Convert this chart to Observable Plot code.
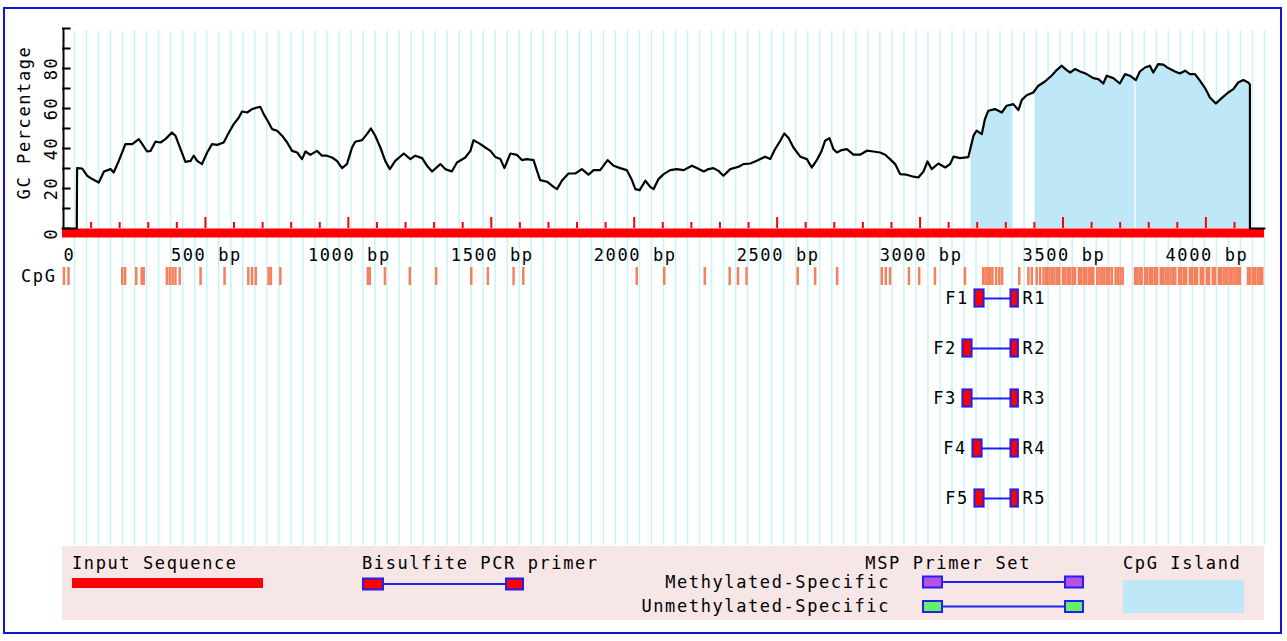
<!DOCTYPE html>
<html><head><meta charset="utf-8">
<script src="https://cdn.jsdelivr.net/npm/d3@7"></script>
<script src="https://cdn.jsdelivr.net/npm/@observablehq/plot@0.6"></script>
<style>
body{margin:0;background:#fff;}
#wrap{position:relative;width:1287px;height:641px;overflow:hidden;font-family:"DejaVu Sans Mono",monospace;background:#fff;}
#frame{position:absolute;left:3px;top:7px;width:1275px;height:623px;border:2px solid #1414d2;box-sizing:content-box;}
#chart{position:absolute;left:0;top:0;}
#legend{position:absolute;left:0;top:0;}
</style></head><body>
<div id="wrap"><div id="frame"></div><div id="chart"></div><svg id="legend" width="1287" height="641"></svg></div>
<script>
// ---------- data ----------
const seqLength = 4205;
const gcPos = [0,50,51,69,86,104,127,145,168,179,197,220,244,267,279,296,308,325,343,360,383,395,413,430,448,459,471,488,506,523,541,564,582,599,617,628,646,663,681,692,704,721,733,751,768,786,803,821,838,850,867,890,908,925,943,960,978,995,1013,1024,1048,1065,1079,1094,1112,1129,1145,1164,1194,1217,1234,1258,1275,1293,1322,1339,1362,1380,1409,1427,1438,1462,1479,1497,1514,1532,1546,1567,1590,1607,1625,1648,1660,1671,1695,1718,1730,1747,1770,1794,1817,1840,1858,1881,1907,1928,1951,1974,1992,2004,2019,2039,2056,2068,2085,2103,2126,2149,2173,2202,2219,2243,2260,2277,2295,2312,2336,2365,2382,2406,2429,2458,2476,2493,2511,2525,2540,2557,2581,2604,2621,2639,2656,2668,2683,2697,2709,2726,2744,2767,2790,2814,2837,2860,2878,2895,2913,2930,2953,2977,2994,3012,3026,3041,3064,3088,3105,3117,3140,3169,3177,3187,3198,3216,3227,3239,3262,3286,3303,3326,3344,3356,3373,3396,3414,3437,3460,3478,3495,3513,3525,3542,3560,3583,3606,3624,3641,3653,3676,3699,3717,3734,3755,3769,3787,3804,3816,3833,3851,3868,3892,3909,3927,3944,3962,3979,3997,4014,4035,4055,4078,4096,4113,4131,4148,4154,4154,4205];
const gcVal = [0,0,30.2,30,26.4,24.7,23,28.5,29.7,28,33.8,42.2,42.2,44.7,42.2,38.5,38.8,43.4,43,44.7,48,46.4,39.7,33.3,33.8,36.4,33.8,32.2,38,42.2,41.8,43,48,52.2,55.5,58.5,58,59.7,60.5,60.8,57.2,53,49.7,48.9,46.4,43,38.8,38,34.7,38.5,36.8,38.8,36.4,36.4,35.5,33.8,30.2,32.2,40.5,43.4,44.2,47.2,50,46.4,40.5,33.8,29.7,33.8,37.5,34.7,36.4,35.2,31.4,28.5,32.2,29.7,28.5,33,35.5,38.8,44.2,42.2,40.5,38.8,35.8,34.7,30.2,37.5,36.8,34.2,34.7,34.2,28.8,24.2,23.4,20.8,19.7,23.9,27.5,27.5,29.7,26.9,29.2,29.2,34.2,31.4,30.2,29.2,24.2,19.7,19.2,23.9,20.8,19.7,24.7,27.2,29.2,29.7,29.2,31.4,30.2,28.5,29.7,30.2,28.8,26.4,29.7,30.9,32.2,32.5,33.9,35.9,34.7,39.7,43.9,47.5,45.2,40.5,35.9,34.7,30.5,34.2,38.9,43.9,45.2,39.7,38,39.2,39.7,36.9,36.9,38.9,38.5,38,36.9,34.7,32.2,27.2,26.9,25.9,25.5,28.5,33.5,29.7,32.5,30.5,32.2,35.9,35.2,35.7,40.5,46.4,48.9,47.2,54.7,58.9,59.7,58,61.4,62.2,59.2,64.3,66.6,68,71.4,73.5,76.4,79.2,81.4,79.2,78,79.7,78.5,77.2,75.2,74.7,72.5,76.4,75.2,72.5,77.2,76.4,74.2,78.5,80.5,81.4,78,82.2,81.9,80.2,78.5,77.5,78.9,77.2,77.2,73.9,70.2,65.5,62.5,65.2,68,69.7,73,74.2,73,72,0,0];
const islandStart = [3178, 3402, 3756];
const islandEnd = [3323, 3752, 4152];
const cpgSites = [5,21,209,219,258,277,284,365,375,385,395,410,483,567,650,663,676,721,729,762,1068,1075,1128,1215,1307,1430,1488,1578,1612,2009,2105,2247,2334,2363,2393,2572,2633,2710,2866,2880,2895,2961,2997,3052,3157,
  3221,3229,3237,3245,3253,3266,3277,3287,3347,3379,3391,3408,3420,3432,3441,
  3445,3453,3462,3470,3479,3487,3500,3508,3517,3525,3534,3542,3556,3564,3573,3581,3590,3598,3606,3620,3628,3637,3645,3654,3662,3671,3684,3692,3701,3709,
  3752,3760,3768,3775,
  3787,3795,3804,3812,3821,3829,3842,3850,3859,3867,3876,3884,3893,3906,3914,3923,3931,3944,3952,3961,3969,3982,3990,4003,4011,4024,4032,4045,4053,4062,4070,4079,4087,4096,4104,4112,4119,
  4147,4155,4164,4172,4181,4189,4197];
const primerIds = ["1","2","3","4","5"];
const fStart = [3192,3150,3150,3185,3192];
const fEnd   = [3224,3182,3182,3217,3224];
const rStart = [3318,3318,3318,3318,3318];
const rEnd   = [3344,3344,3344,3344,3344];
const xTickValues = [0,500,1000,1500,2000,2500,3000,3500,4000];
const xTickLabels = ["0","500 bp","1000 bp","1500 bp","2000 bp","2500 bp","3000 bp","3500 bp","4000 bp"];
const yTickValues = [0,20,40,60,80];
const yTickLabels = ["0","20","40","60","80"];

// ---------- build ----------
const gc = gcPos.map((p,i)=>({pos:p, gc:gcVal[i]}));
const primers = primerIds.map((id,i)=>({id, i, fs:fStart[i], fe:fEnd[i], rs:rStart[i], re:rEnd[i]}));
const gridX = d3.range(1,101).map(k=>k*seqLength/100);
const minorTicks = d3.range(100, 4200, 100).filter(d=>d%500!==0);
const majorTicks = d3.range(500, 4200, 500);
const rowY = d => -35 - 25*d.i;
const gridColor = "#c6f5f7", cpgColor = "#f5805c", islandColor = "#bee8f7", primerStroke = "#2020f0";
const FONT = {fontFamily: "DejaVu Sans Mono", fontSize: "17px", letterSpacing: "1.6px"};

const svg = Plot.plot({
  width: 1287, height: 546,
  marginLeft: 62, marginRight: 23, marginTop: 28, marginBottom: 318,
  x: {domain: [0, seqLength], axis: null},
  y: {domain: [0, 100], axis: null},
  style: {...FONT, background: "transparent", overflow: "visible"},
  marks: [
    Plot.ruleX(gridX, {x: d=>d, y1: 98.75, y2: -158.5, stroke: gridColor, strokeWidth: 1.5}),
    Plot.areaY(gc, {x: "pos", y: "gc", fill: islandColor}),
    Plot.ruleX(minorTicks, {x: d=>d, y1: 0, y2: 3, stroke: "red", strokeWidth: 2}),
    Plot.ruleX(majorTicks, {x: d=>d, y1: 0, y2: 5.5, stroke: "red", strokeWidth: 2}),
    Plot.ruleY([0], {x1: 0, x2: seqLength, stroke: "red", strokeWidth: 9, dy: 4.5}),
    Plot.line(gc, {x: "pos", y: "gc", stroke: "black", strokeWidth: 2.2}),
    Plot.ruleX([0], {y1: 0, y2: 100, stroke: "black", strokeWidth: 2, dx: 1}),
    Plot.ruleY(d3.range(0, 101, 10), {y: d=>d, x1: 0, x2: 30, stroke: "black", strokeWidth: 2}),
    Plot.text(yTickValues.slice(1), {x: 0, y: d=>d, text: (d,i)=>yTickLabels[i+1], rotate: -90, dx: -11}),
    Plot.text([yTickValues[0]], {x: 0, y: d=>d, text: ()=>yTickLabels[0], rotate: -90, dx: -11, dy: 5}),
    Plot.text(["GC Percentage"], {x: 0, y: 53, text: d=>d, rotate: -90, dx: -38}),
    Plot.text(xTickValues.slice(0,1), {x: d=>d, y: 0, text: ()=>xTickLabels[0], dy: 27, textAnchor: "start", dx: 1}),
    Plot.text(xTickValues.slice(1), {x: d=>d, y: 0, text: (d,i)=>xTickLabels[i+1], dy: 27, dx: 1}),
    Plot.ruleX(cpgSites, {x: d=>d, y1: -19.5, y2: -28.5, stroke: cpgColor, strokeWidth: 2.5}),
    Plot.text(["CpG"], {x: 0, y: -24, text: d=>d, textAnchor: "end", dx: -6}),
    Plot.ruleY(primers, {x1: "fe", x2: "rs", y: rowY, stroke: primerStroke, strokeWidth: 2}),
    Plot.rect(primers, {x1: "fs", x2: "fe", y1: d=>rowY(d)+4.3, y2: d=>rowY(d)-4.3, fill: "red", stroke: primerStroke, strokeWidth: 2}),
    Plot.rect(primers, {x1: "rs", x2: "re", y1: d=>rowY(d)+4.3, y2: d=>rowY(d)-4.3, fill: "red", stroke: primerStroke, strokeWidth: 2}),
    Plot.text(primers, {x: "fs", y: rowY, text: d=>"F"+d.id, textAnchor: "end", dx: -6}),
    Plot.text(primers, {x: "re", y: rowY, text: d=>"R"+d.id, textAnchor: "start", dx: 4})
  ]
});

// clip the CpG island fill to the island ranges
const xs = svg.scale("x");
const sel = d3.select(svg);
const defs = sel.insert("defs", ":first-child");
const cp = defs.append("clipPath").attr("id", "islandClip");
islandStart.forEach((s,i)=>{
  cp.append("rect").attr("x", xs.apply(s)).attr("y", 0)
    .attr("width", xs.apply(islandEnd[i]) - xs.apply(s)).attr("height", 546);
});
sel.select('g[aria-label="area"]').attr("clip-path", "url(#islandClip)");
document.getElementById("chart").appendChild(svg);

// ---------- legend ----------
const L = d3.select("#legend").style("font-family",FONT.fontFamily).style("font-size",FONT.fontSize).style("letter-spacing",FONT.letterSpacing);
L.append("rect").attr("x",62).attr("y",546).attr("width",1202).attr("height",74).attr("fill","#f6e6e6");
const txt = (s,x,y,anchor)=>L.append("text").attr("x",x).attr("y",y).attr("text-anchor",anchor||"start").text(s);
txt("Input Sequence",72,569);
L.append("rect").attr("x",72).attr("y",578).attr("width",191).attr("height",10).attr("fill","red");
txt("Bisulfite PCR primer",362,569);
const pair = (x1,x2,w1,w2,y,fill)=>{
  L.append("line").attr("x1",x1+w1).attr("x2",x2).attr("y1",y+5.5).attr("y2",y+5.5).attr("stroke",primerStroke).attr("stroke-width",2);
  L.append("rect").attr("x",x1).attr("y",y).attr("width",w1).attr("height",11).attr("fill",fill).attr("stroke",primerStroke).attr("stroke-width",2);
  L.append("rect").attr("x",x2).attr("y",y).attr("width",w2).attr("height",11).attr("fill",fill).attr("stroke",primerStroke).attr("stroke-width",2);
};
pair(363,506,20,17,578.5,"red");
txt("MSP Primer Set",1031,569,"end");
txt("Methylated-Specific",890,588,"end");
pair(923,1065,19,18,576.5,"#ba50e0");
txt("Unmethylated-Specific",890,612,"end");
pair(923,1065,19,18,601,"#66f066");
txt("CpG Island",1123,569);
L.append("rect").attr("x",1123).attr("y",580).attr("width",121).attr("height",33).attr("fill",islandColor);
</script>
</body></html>
